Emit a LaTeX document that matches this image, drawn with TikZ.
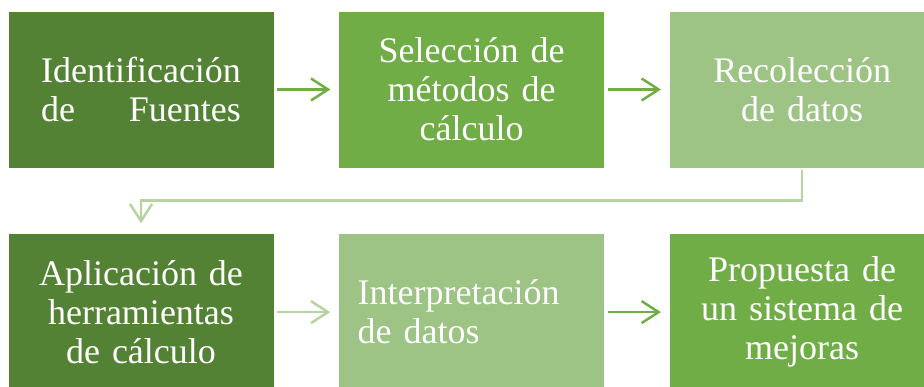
\documentclass[tikz,border=0pt]{standalone}
\usepackage{fontspec}
\setmainfont{Liberation Serif}
\newfontfamily\stagefont{Liberation Serif}
\usepackage{calc}
\usetikzlibrary{positioning,arrows.meta}

\definecolor{darkgreen}{HTML}{548235}
\definecolor{midgreen}{HTML}{70AD47}
\definecolor{lightgreen}{HTML}{9DC385}
\definecolor{palegreen}{HTML}{B5D4A1}

\begin{document}
\begin{tikzpicture}[x=1pt, y=-1pt, node distance=65pt and 64pt,
    stage/.style={rectangle, draw=white, line width=0.6pt, text=white,
      minimum width=266pt, minimum height=157pt, text width=228pt,
      inner xsep=19pt, inner ysep=0pt, align=center,
      font=\stagefont\fontsize{36}{39}\selectfont},
    link/.style={line width=2.5pt, shorten <=3pt, shorten >=8pt,
      -{Straight Barb[length=17pt,width=22pt,line width=2.5pt]}}]

    \useasboundingbox (0,0) rectangle (924,387);

    \node[stage, fill=darkgreen]  (ident) at (141,89.5)
      {Identificación\\\makebox[\widthof{Identificación}][s]{de\hfill Fuentes}};
    \node[stage, fill=midgreen]   (metodos) [right=of ident]   {Selección de\\métodos de\\cálculo};
    \node[stage, fill=lightgreen] (recol)   [right=of metodos] {Recolección\\de datos};
    \node[stage, fill=darkgreen]  (aplic)   [below=of ident]   {Aplicación de\\herramientas\\de cálculo};
    \node[stage, fill=lightgreen, align=left] (interp) [right=of aplic] {Interpretación\\de datos};
    \node[stage, fill=midgreen]   (mejoras) [right=of interp]  {Propuesta de\\un sistema de\\mejoras};

    \draw[link, midgreen]   (ident)   -- (metodos);
    \draw[link, midgreen]   (metodos) -- (recol);
    \draw[link, palegreen, shorten <=2pt, shorten >=10pt]
      (recol.south) -- ++(0,32) -| (aplic.north);
    \draw[link, palegreen]  (aplic)   -- (interp);
    \draw[link, midgreen]   (interp)  -- (mejoras);
  \end{tikzpicture}
\end{document}
